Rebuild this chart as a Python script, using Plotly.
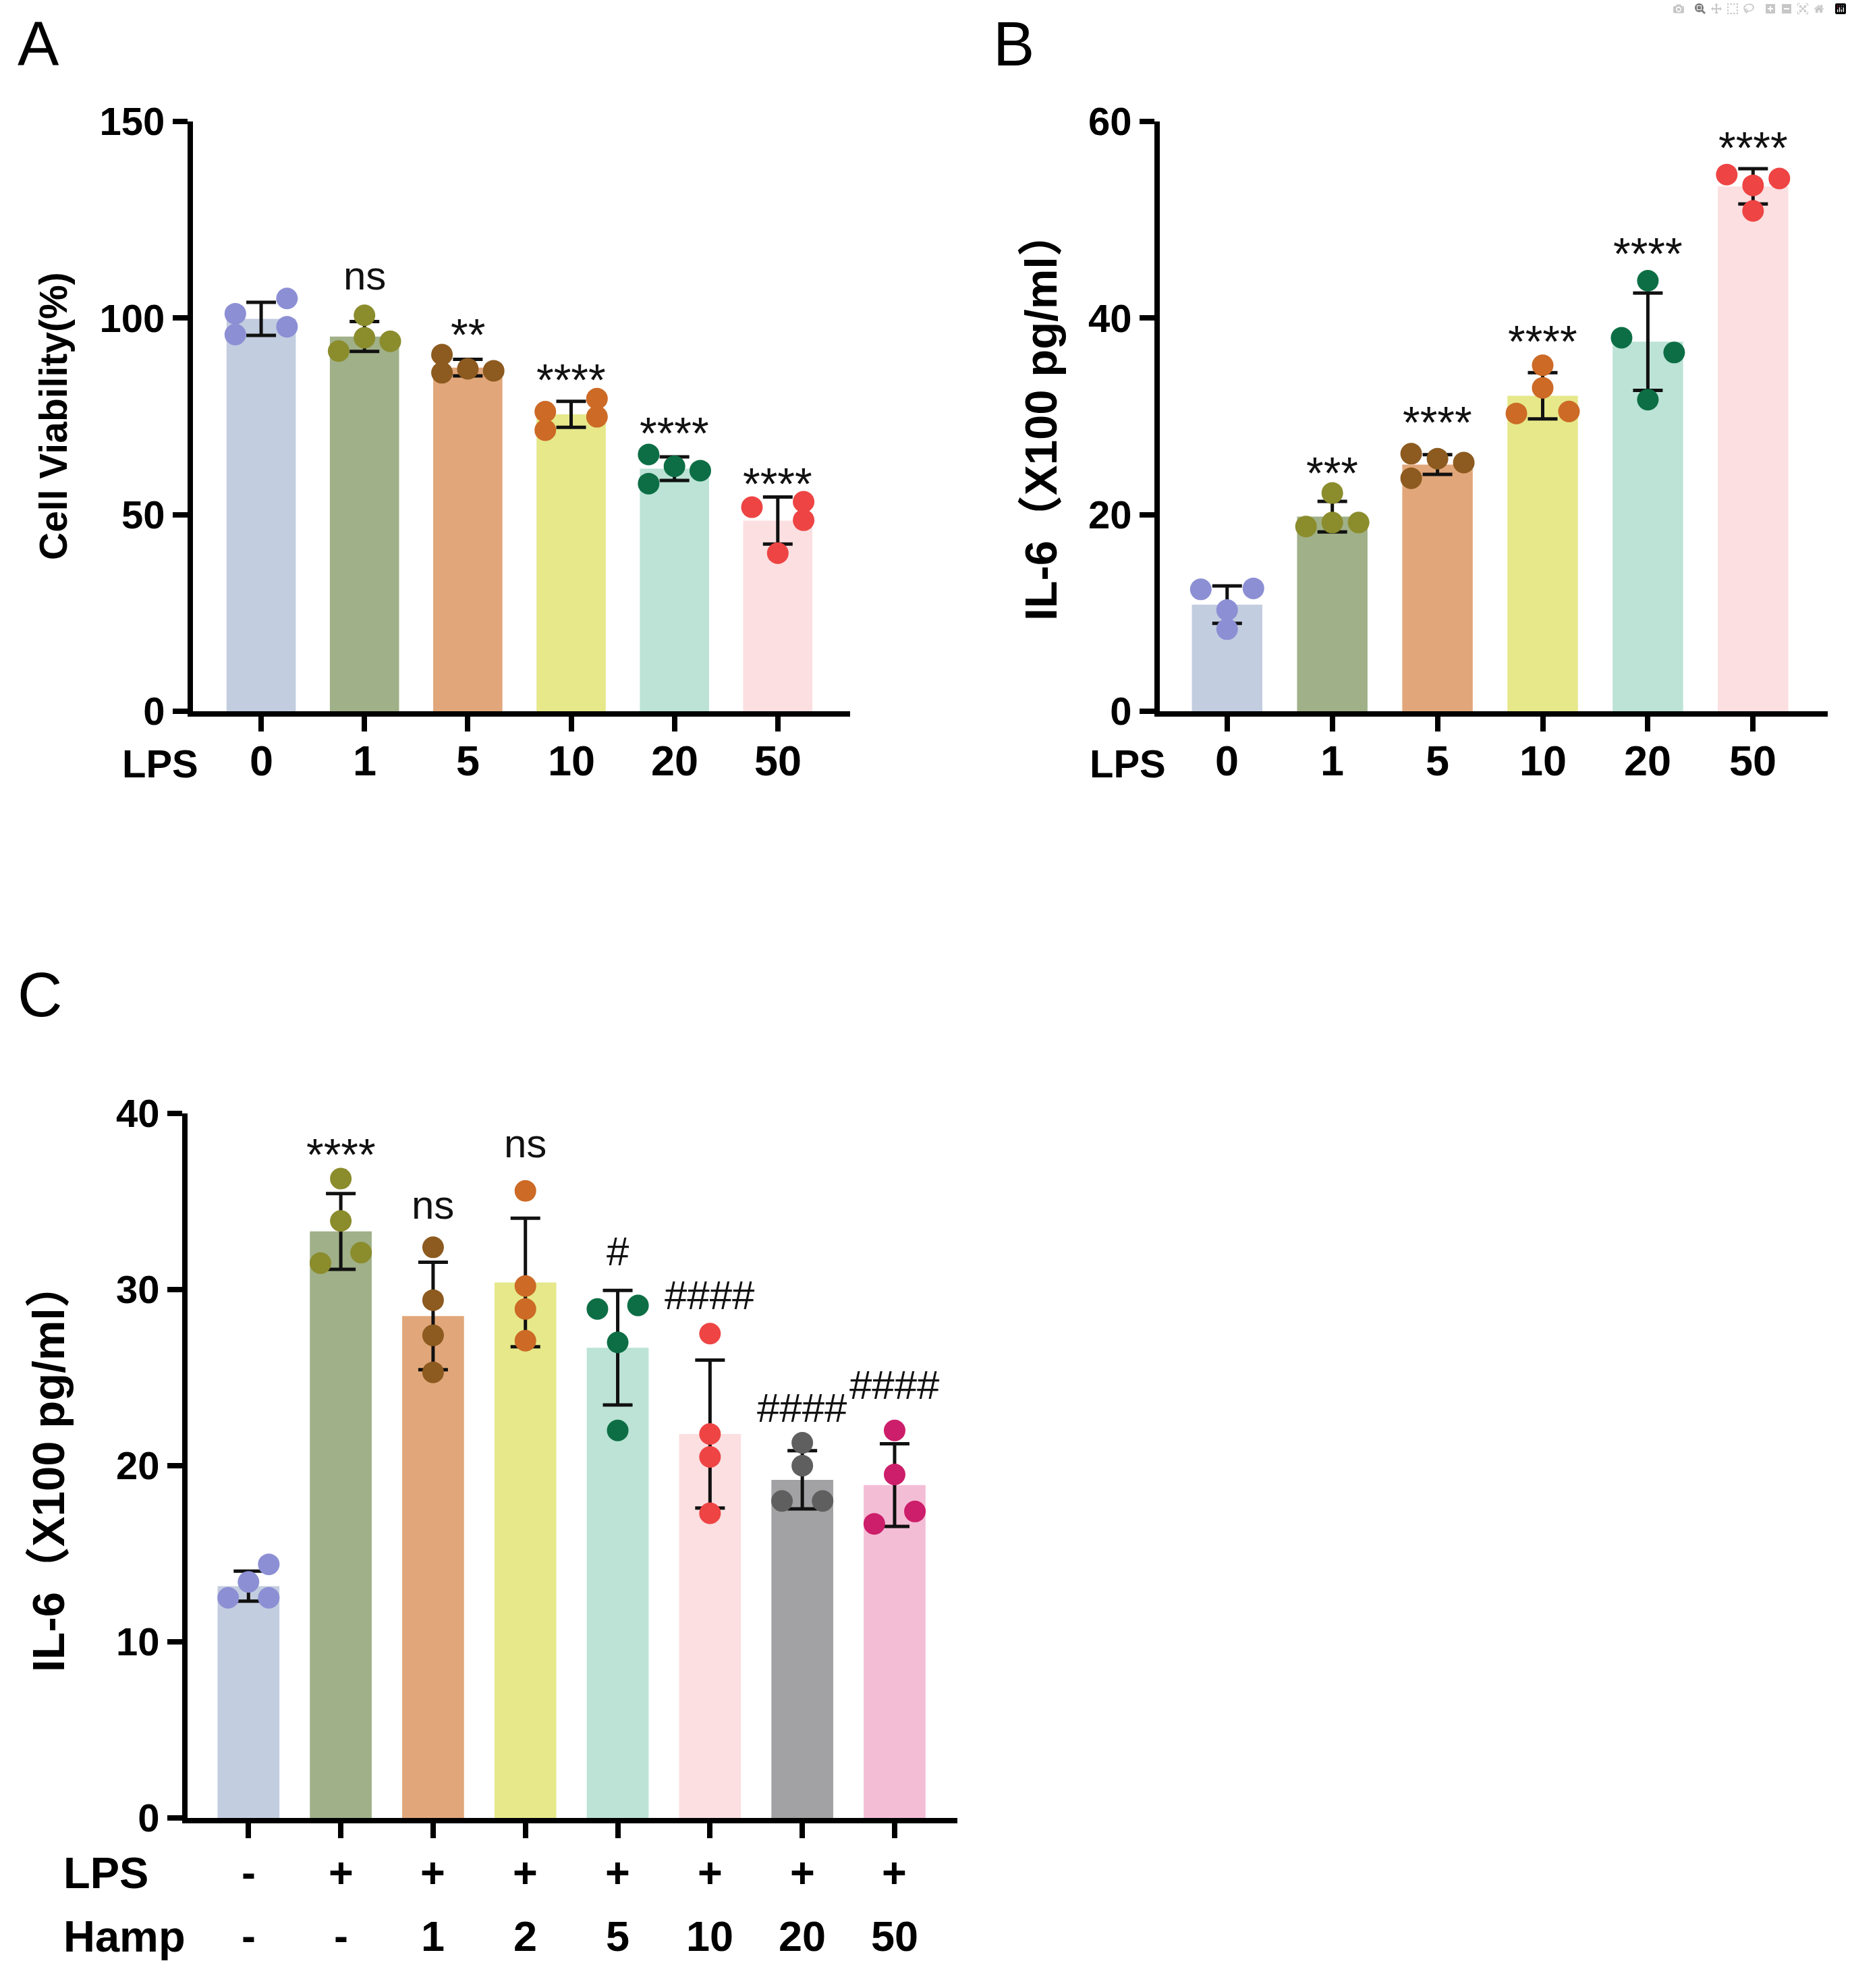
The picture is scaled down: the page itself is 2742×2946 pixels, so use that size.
import plotly.graph_objects as go

W, H = 2742, 2946
FONT = "Liberation Sans, Arial, Noto Sans CJK SC, sans-serif"

# ---- panel A: cell viability vs LPS dose
A_LABELS = ["0", "1", "5", "10", "20", "50"]
A_MEAN = [99.8, 95.3, 87.4, 75.5, 61.7, 48.5]
A_SD = [4.2, 3.8, 2.1, 3.3, 3.0, 6.0]
A_PTS = [
    [101.1, 105.0, 95.8, 97.8],
    [100.7, 95.0, 91.6, 94.1],
    [90.7, 86.1, 87.1, 86.6],
    [76.2, 71.5, 79.5, 74.9],
    [65.3, 57.9, 62.3, 61.2],
    [51.9, 40.2, 53.3, 48.6],
]
A_SIG = ["", "ns", "**", "****", "****", "****"]
A_SIG_Y = [0, 109.8, 98.2, 86.6, 73.1, 60.2]

# ---- panel B: IL-6 vs LPS dose
B_LABELS = ["0", "1", "5", "10", "20", "50"]
B_MEAN = [10.85, 19.8, 25.1, 32.1, 37.6, 53.4]
B_SD = [1.9, 1.55, 1.0, 2.35, 4.95, 1.8]
B_PTS = [
    [12.4, 10.3, 8.35, 12.5],
    [22.2, 18.8, 19.2, 19.2],
    [26.2, 23.7, 25.7, 25.3],
    [35.2, 32.9, 30.3, 30.5],
    [43.8, 38.0, 36.5, 31.7],
    [54.6, 53.5, 54.2, 50.9],
]
B_SIG = ["", "***", "****", "****", "****", "****"]
B_SIG_Y = [0, 25.2, 30.3, 38.6, 47.5, 58.3]

# ---- panel C: IL-6 with LPS + Hamp
C_LPS = ["-", "+", "+", "+", "+", "+", "+", "+"]
C_HAMP = ["-", "-", "1", "2", "5", "10", "20", "50"]
C_MEAN = [13.16, 33.3, 28.5, 30.4, 26.7, 21.8, 19.2, 18.9]
C_SD = [0.85, 2.15, 3.05, 3.65, 3.25, 4.2, 1.65, 2.35]
C_PTS = [
    [12.5, 13.4, 14.4, 12.5],
    [36.3, 33.9, 31.5, 32.1],
    [32.4, 29.4, 27.4, 25.3],
    [35.6, 30.2, 28.9, 27.1],
    [28.9, 29.1, 27.0, 22.0],
    [27.5, 21.8, 20.5, 17.3],
    [21.3, 20.0, 18.0, 18.0],
    [22.0, 19.5, 16.7, 17.4],
]
C_SIG = ["", "****", "ns", "ns", "#", "####", "####", "####"]
C_SIG_Y = [0, 38.2, 34.6, 38.1, 32.2, 29.7, 23.3, 24.6]

# dot spread inside each bar (-1 left, 0 centre, 1 right)
A_JIT = [[-1, 1, -1, 1], [0, 0, -1, 1], [-1, -1, 0, 1], [-1, -1, 1, 1], [-1, -1, 0, 1], [-1, 0, 1, 1]]
B_JIT = [[-1, 0, 0, 1], [0, -1, 0, 1], [-1, -1, 0, 1], [0, 0, -1, 1], [0, -1, 1, 0], [-1, 0, 1, 0]]
C_JIT = [[-1, 0, 1, 1], [0, 0, -1, 1], [0, 0, 0, 0], [0, 0, 0, 0], [-1, 1, 0, 0], [0, 0, 0, 0], [0, 0, -1, 1], [0, 0, -1, 1]]

BAR_COLORS = ["#c3cde0", "#a0b088", "#e1a77a", "#e6e88a", "#bce3d6", "#fbdfe1", "#a2a2a4", "#f4bdd6"]
DOT_COLORS = ["#8c8fd3", "#8b8c2c", "#8d5a1f", "#cc6a26", "#0d6e45", "#ee4444", "#5f5f5f", "#cc1e6a"]

# glyph centre height (em above baseline) used to line up the star/hash labels
GLYPH_MID = {"n": 0.26, "*": 0.56, "#": 0.36}
SIG_SIZE = {"n": 60, "*": 66, "#": 60}
TICK_SIZE = 63


def px(x):
    return x / W


def py(y):
    return 1 - y / H


fig = go.Figure()
annotations = []


def add_panel(idx, mean, sd, pts, jit, sig, sig_y, step):
    xa = "x" if idx == 1 else f"x{idx}"
    ya = "y" if idx == 1 else f"y{idx}"
    n = len(mean)
    fig.add_trace(go.Bar(
        x=list(range(n)), y=mean, width=0.67,
        marker=dict(color=BAR_COLORS[:n], line_width=0),
        error_y=dict(type="data", array=sd, visible=True, color="#111111", thickness=5, width=22),
        xaxis=xa, yaxis=ya, showlegend=False,
    ))
    for i in range(n):
        fig.add_trace(go.Scatter(
            x=[i + j * step for j in jit[i]], y=pts[i], mode="markers",
            marker=dict(size=32, color=DOT_COLORS[i], line_width=0),
            xaxis=xa, yaxis=ya, showlegend=False,
        ))
    for i, s in enumerate(sig):
        if not s:
            continue
        k = s[0]
        size = SIG_SIZE[k]
        annotations.append(dict(
            x=i, y=sig_y[i], xref=xa, yref=ya, text=s, showarrow=False,
            font=dict(family=FONT, size=size, color="#111111"),
            xanchor="center", yanchor="middle", yshift=(0.35 - GLYPH_MID[k]) * size,
        ))


add_panel(1, A_MEAN, A_SD, A_PTS, A_JIT, A_SIG, A_SIG_Y, 0.25)
add_panel(2, B_MEAN, B_SD, B_PTS, B_JIT, B_SIG, B_SIG_Y, 0.25)
add_panel(3, C_MEAN, C_SD, C_PTS, C_JIT, C_SIG, C_SIG_Y, 0.22)


def x_axis(domain, rng, n, anchor):
    return dict(
        domain=domain, range=rng, anchor=anchor, showline=True, linewidth=8, linecolor="black",
        ticks="outside", ticklen=22, tickwidth=8, tickcolor="black", automargin=False,
        tickvals=list(range(n)), showticklabels=False, showgrid=False, zeroline=False,
    )


def y_axis(domain, top, dtick, anchor):
    return dict(
        domain=domain, range=[0, top], anchor=anchor, showline=True, linewidth=8, linecolor="black",
        ticks="outside", ticklen=22, tickwidth=8, tickcolor="black", dtick=dtick, automargin=False,
        tickfont=dict(family=FONT, size=58, color="black", weight="bold"),
        showgrid=False, zeroline=False,
    )


def label(x, y, text, size, xanchor="center", weight="bold", angle=0):
    annotations.append(dict(
        x=x, y=y, xref="paper", yref="paper", text=text, showarrow=False, textangle=angle,
        font=dict(family=FONT, size=size, color="black", weight=weight),
        xanchor=xanchor, yanchor="middle",
    ))


def tick_row(xref, labels, ypx):
    for i, t in enumerate(labels):
        annotations.append(dict(
            x=i, y=py(ypx), xref=xref, yref="paper", text=t, showarrow=False,
            xanchor="center", yanchor="middle",
            font=dict(family=FONT, size=TICK_SIZE, color="black", weight="bold"),
        ))


# category labels under the axes
tick_row("x", A_LABELS, 1127)
tick_row("x2", B_LABELS, 1127)
tick_row("x3", C_LPS, 2775)
tick_row("x3", C_HAMP, 2869)

label(px(237), py(1131), "LPS", 58)
label(px(1671), py(1131), "LPS", 58)
label(px(92), py(2775), "LPS", 65, xanchor="left")
label(px(92), py(2869), "Hamp", 65, xanchor="left")

# axis titles
label(px(79), py(617), "Cell Viability(%)", 57, angle=-90)
label(px(1543), py(617), "IL-6（X100 pg/ml）", 67, angle=-90)
label(px(71), py(2175), "IL-6（X100 pg/ml）", 67, angle=-90)

# panel letters
label(px(24), py(65), "A", 92, xanchor="left", weight="normal")
label(px(1470), py(65), "B", 92, xanchor="left", weight="normal")
label(px(24), py(1474), "C", 92, xanchor="left", weight="normal")

fig.update_layout(
    width=W, height=H, margin=dict(l=0, r=0, t=0, b=0),
    paper_bgcolor="white", plot_bgcolor="white",
    xaxis=x_axis([px(286), px(1260)], [-0.66, 5.7], 6, "y"),
    yaxis=y_axis([py(1054), py(180)], 150, 50, "x"),
    xaxis2=x_axis([px(1719), px(2709)], [-0.64, 5.71], 6, "y2"),
    yaxis2=y_axis([py(1054), py(180)], 60, 20, "x2"),
    xaxis3=x_axis([px(278), px(1419)], [-0.66, 7.68], 8, "y3"),
    yaxis3=y_axis([py(2694), py(1650)], 40, 10, "x3"),
    annotations=annotations,
    showlegend=False,
)

fig.write_html("out.html", post_script="document.body.style.margin='0';")
